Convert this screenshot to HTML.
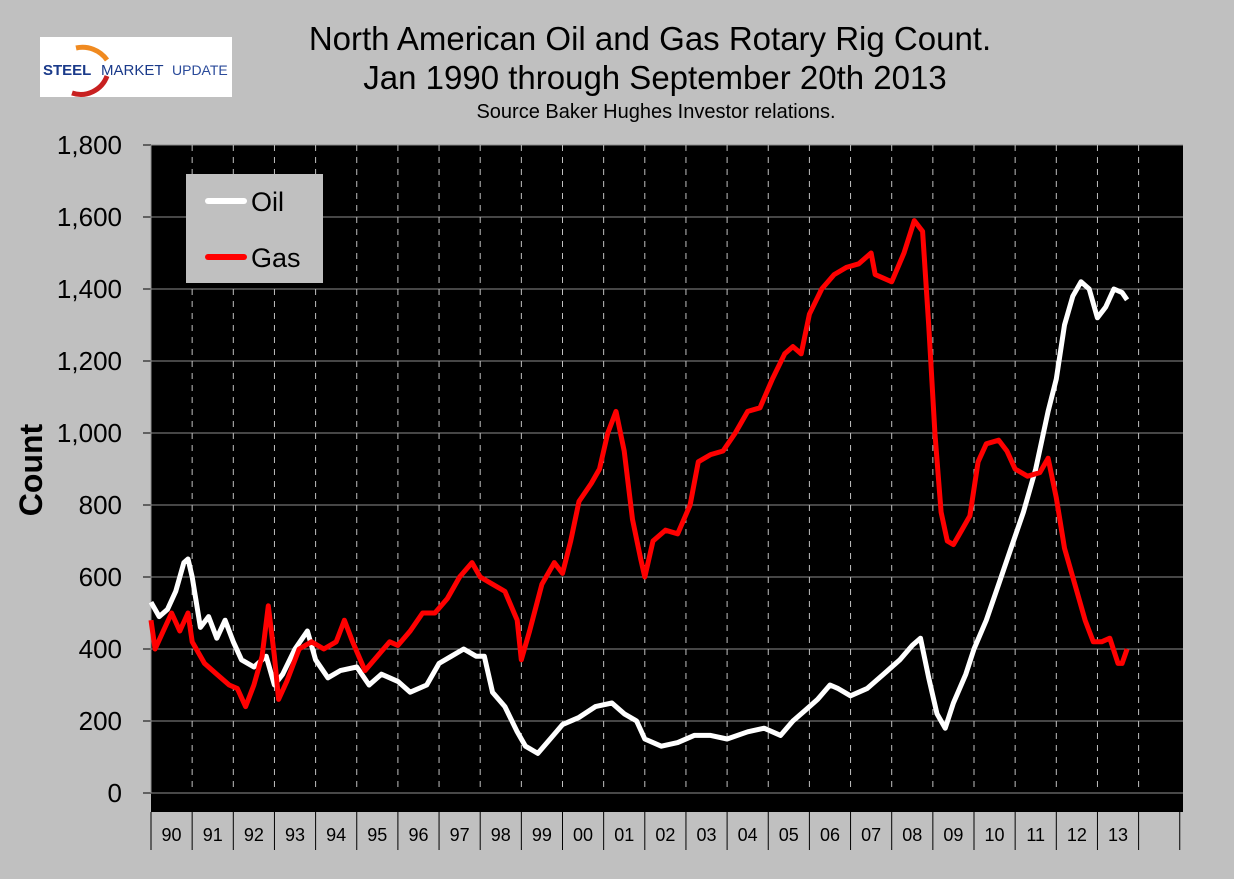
<!DOCTYPE html>
<html><head><meta charset="utf-8"><style>
body{margin:0;background:#c0c0c0;width:1234px;height:874px;overflow:hidden;font-family:"Liberation Sans",sans-serif}
</style></head><body>
<svg width="1234" height="874" xmlns="http://www.w3.org/2000/svg">
<rect width="1234" height="874" fill="#c0c0c0"/>
<g>
<rect x="40" y="37" width="192" height="60" fill="#fff"/>
<path d="M76 48 A30 30 0 0 1 107 60" stroke="#f08a20" stroke-width="5" fill="none"/>
<path d="M107 76 A28 28 0 0 1 72 93" stroke="#c82020" stroke-width="5" fill="none"/>
<text x="43" y="75" font-size="15" font-weight="bold" fill="#1a3a8a">STEEL</text>
<text x="101" y="75" font-size="15" fill="#1a3a8a">MARKET</text>
<text x="172" y="75" font-size="14" fill="#2a4a9a">UPDATE</text>
</g>
<text x="650" y="50" font-size="33" text-anchor="middle">North American Oil and Gas Rotary Rig Count.</text>
<text x="655" y="89" font-size="33" text-anchor="middle">Jan 1990 through September 20th 2013</text>
<text x="656" y="118" font-size="20" text-anchor="middle">Source Baker Hughes Investor relations.</text>
<rect x="151" y="145" width="1032" height="667" fill="#000"/>
<g id="grid"></g>
<g id="axes"></g>
<text transform="translate(42,470) rotate(-90)" font-size="32" font-weight="bold" text-anchor="middle">Count</text>
<g id="series"></g>
<g>
<rect x="186" y="174" width="137" height="109" fill="#c0c0c0"/>
<line x1="208" y1="201" x2="244" y2="201" stroke="#fff" stroke-width="6" stroke-linecap="round"/>
<text x="251" y="211" font-size="27">Oil</text>
<line x1="208" y1="257" x2="244" y2="257" stroke="#f00" stroke-width="6" stroke-linecap="round"/>
<text x="251" y="267" font-size="27">Gas</text>
</g>
</svg>
<script>
const yTicks=[0,200,400,600,800,1000,1200,1400,1600,1800];
const yearLabels=["90","91","92","93","94","95","96","97","98","99","00","01","02","03","04","05","06","07","08","09","10","11","12","13"];
const oilT=[1990.0,1990.2,1990.4,1990.6,1990.8,1990.9,1991.0,1991.2,1991.4,1991.6,1991.8,1992.0,1992.2,1992.5,1992.8,1993.0,1993.2,1993.5,1993.8,1994.0,1994.3,1994.6,1995.0,1995.3,1995.6,1996.0,1996.3,1996.7,1997.0,1997.3,1997.6,1997.9,1998.1,1998.3,1998.6,1998.9,1999.1,1999.4,1999.7,2000.0,2000.4,2000.8,2001.2,2001.5,2001.8,2002.0,2002.4,2002.8,2003.2,2003.6,2004.0,2004.5,2004.9,2005.3,2005.6,2005.9,2006.2,2006.5,2006.7,2007.0,2007.4,2007.8,2008.2,2008.5,2008.7,2008.9,2009.1,2009.3,2009.5,2009.8,2010.0,2010.3,2010.6,2010.9,2011.2,2011.5,2011.8,2012.0,2012.2,2012.4,2012.6,2012.8,2013.0,2013.2,2013.4,2013.6,2013.72];
const oilV=[530,490,510,560,640,650,600,460,490,430,480,420,370,350,380,300,330,400,450,370,320,340,350,300,330,310,280,300,360,380,400,380,380,280,240,170,130,110,150,190,210,240,250,220,200,150,130,140,160,160,150,170,180,160,200,230,260,300,290,270,290,330,370,410,430,320,220,180,250,330,400,480,580,680,780,900,1060,1150,1300,1380,1420,1400,1320,1350,1400,1390,1370];
const gasT=[1990.0,1990.1,1990.3,1990.5,1990.7,1990.9,1991.0,1991.3,1991.6,1991.9,1992.1,1992.3,1992.5,1992.7,1992.85,1993.0,1993.1,1993.3,1993.6,1993.9,1994.2,1994.5,1994.7,1994.9,1995.2,1995.5,1995.8,1996.0,1996.3,1996.6,1996.9,1997.2,1997.5,1997.8,1998.0,1998.3,1998.6,1998.9,1999.0,1999.2,1999.5,1999.8,2000.0,2000.2,2000.4,2000.7,2000.9,2001.1,2001.3,2001.5,2001.7,2001.9,2002.0,2002.2,2002.5,2002.8,2003.1,2003.3,2003.6,2003.9,2004.2,2004.5,2004.8,2005.1,2005.4,2005.6,2005.8,2006.0,2006.3,2006.6,2006.9,2007.2,2007.5,2007.6,2007.8,2008.0,2008.3,2008.55,2008.75,2008.9,2009.05,2009.2,2009.35,2009.5,2009.7,2009.9,2010.1,2010.3,2010.6,2010.8,2011.0,2011.3,2011.6,2011.8,2012.0,2012.2,2012.5,2012.7,2012.9,2013.1,2013.3,2013.5,2013.6,2013.72];
const gasV=[480,400,450,500,450,500,420,360,330,300,290,240,300,380,520,380,260,310,400,420,400,420,480,420,340,380,420,410,450,500,500,540,600,640,600,580,560,480,370,450,580,640,610,700,810,860,900,1000,1060,950,760,650,600,700,730,720,800,920,940,950,1000,1060,1070,1150,1220,1240,1220,1330,1400,1440,1460,1470,1500,1440,1430,1420,1500,1590,1560,1300,1000,780,700,690,730,770,920,970,980,950,900,880,890,930,820,680,560,480,420,420,430,360,360,400];
const NS="http://www.w3.org/2000/svg";
const X0=151,YW=41.15,Y0=793,SC=0.36;
const xs=t=>X0+(t-1990)*YW, ys=v=>Y0-v*SC;
function mk(tag,attrs,parent){const e=document.createElementNS(NS,tag);for(const k in attrs)e.setAttribute(k,attrs[k]);document.getElementById(parent).appendChild(e);return e;}
yTicks.forEach(v=>{
 if(v>0){const g=mk('line',{x1:X0,x2:1183,y1:ys(v),y2:ys(v),stroke:'#8c8c8c','stroke-width':1},'grid');
 
 }
 const tk=mk('line',{x1:143,x2:X0,y1:ys(v),y2:ys(v),stroke:'#000'},'axes');
 
 
 const t=mk('text',{x:122,y:ys(v)+9,'font-size':26,'text-anchor':'end'},'axes');
 t.textContent=v.toLocaleString('en-US');
 
 
});
const zl=mk('line',{x1:X0,x2:1183,y1:Y0,y2:Y0,stroke:'#909090'},'axes');


const yl=mk('line',{x1:X0,x2:X0,y1:145,y2:Y0,stroke:'#909090'},'axes');


for(let i=1;i<=24;i++){
 const g=mk('line',{x1:xs(1990+i),x2:xs(1990+i),y1:145,y2:Y0,stroke:'#c0c0c0','stroke-dasharray':'6,6'},'grid');
 
 
}
for(let i=0;i<=25;i++){
 const s=mk('line',{x1:xs(1990+i),x2:xs(1990+i),y1:812,y2:850,stroke:'#000'},'axes');
 
 
}
yearLabels.forEach((l,i)=>{
 const t=mk('text',{x:xs(1990+i+0.5),y:841,'font-size':18,'text-anchor':'middle'},'axes');
 t.textContent=l;
 
 
});
function line(T,V,col,name){
 const d=T.map((t,i)=>(i?'L':'M')+xs(t).toFixed(1)+' '+ys(V[i]).toFixed(1)).join(' ');
 const p=mk('path',{d:d,stroke:col,'stroke-width':5,fill:'none','stroke-linejoin':'round'},'series');
 
 
}
line(oilT,oilV,'#fff','oil-line');
line(gasT,gasV,'#f00','gas-line');
</script>
</body></html>
